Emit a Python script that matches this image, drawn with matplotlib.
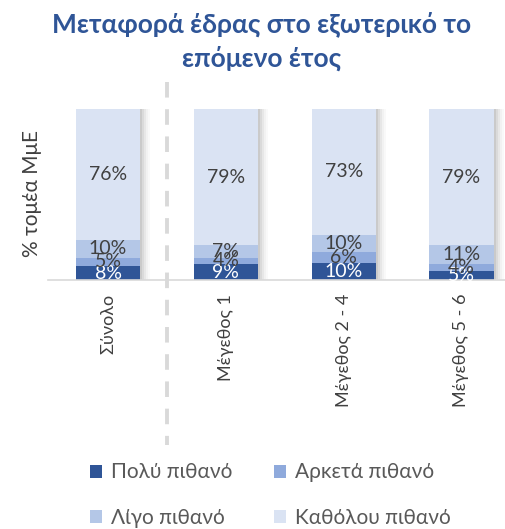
import numpy as np
import matplotlib
matplotlib.use('Agg')
import matplotlib.pyplot as plt
import matplotlib.transforms as mtransforms

# data (percent of sector)
categories = ['Σύνολο', 'Μέγεθος 1', 'Μέγεθος 2 - 4', 'Μέγεθος 5 - 6']
series_names = ['Πολύ πιθανό', 'Αρκετά πιθανό', 'Λίγο πιθανό', 'Καθόλου πιθανό']
poly = [8, 9, 10, 5]
arketa = [5, 4, 6, 4]
ligo = [10, 7, 10, 11]
katholou = [76, 79, 73, 79]

colors = ['#2F5597', '#8FAADC', '#B4C7E7', '#DAE3F3']
label_colors = ['white', '#404040', '#404040', '#404040']

plt.rcParams['font.family'] = ['Lato', 'DejaVu Sans']

fig = plt.figure(figsize=(5.05, 5.29), dpi=100)
ax = fig.add_axes([48 / 505, 1 - 280 / 529, 1 - 48 / 505, 173 / 529])

x = np.arange(len(categories))
width = 0.545
series = [poly, arketa, ligo, katholou]

# soft shadow to the right of each bar
totals = np.sum(series, axis=0) / 100
px = 1 / 117.7
for k, a in enumerate([0.16, 0.12, 0.09, 0.06, 0.04]):
    ax.bar(x + (k + 1) * 2 * px, totals, width, color='#7F7F7F',
           alpha=a, linewidth=0, zorder=1)

bottom = np.zeros(len(categories))
handles = []
for vals, col, lc, name in zip(series, colors, label_colors, series_names):
    v = np.array(vals) / 100
    h = ax.bar(x, v, width, bottom=bottom, color=col, label=name, zorder=2)
    handles.append(h)
    for xi, b, hh, raw in zip(x, bottom, v, vals):
        ax.text(xi, b + hh / 2, f'{raw}%', ha='center', va='center',
                color=lc, fontsize=14, zorder=3)
    bottom += v

ax.set_xlim(-0.51, 3.37)
ax.set_ylim(0, 1.0)
ax.set_yticks([])
ax.set_xticks(x)
ax.set_xticklabels(categories, rotation=90, va='top', fontsize=13, color='#404040')
ax.tick_params(axis='x', length=0, pad=10)
for s in ['top', 'right', 'left']:
    ax.spines[s].set_visible(False)
ax.spines['bottom'].set_color('#D9D9D9')
ax.spines['bottom'].set_linewidth(1.2)

ax.set_ylabel('% τομέα ΜμΕ', fontsize=15, color='#404040', labelpad=4)

# dashed separator between total and size classes
trans = mtransforms.blended_transform_factory(ax.transData, ax.transAxes)
ax.plot([0.5, 0.5], [1.145, -0.954], transform=trans, clip_on=False,
        color='#D9D9D9', linewidth=2.8, dashes=(4.0, 3.0), zorder=0)

fig.text(0.517, 1 - 24 / 529, 'Μεταφορά έδρας στο εξωτερικό το', ha='center',
         va='center', fontsize=19, fontweight='bold', color='#2F5597')
fig.text(0.517, 1 - 58 / 529, 'επόμενο έτος', ha='center',
         va='center', fontsize=19, fontweight='bold', color='#2F5597')

# legend filled column-wise: order so rows read Πολύ/Αρκετά, Λίγο/Καθόλου
order = [0, 2, 1, 3]
fig.legend([handles[i] for i in order], [series_names[i] for i in order],
           loc='center', bbox_to_anchor=(0.535, 1 - 495 / 529), ncol=2,
           frameon=False, fontsize=15, labelcolor='#595959',
           handlelength=0.6, handleheight=0.6, handletextpad=0.4,
           columnspacing=2.0, labelspacing=1.2)

fig.savefig('out.png', dpi=100)
